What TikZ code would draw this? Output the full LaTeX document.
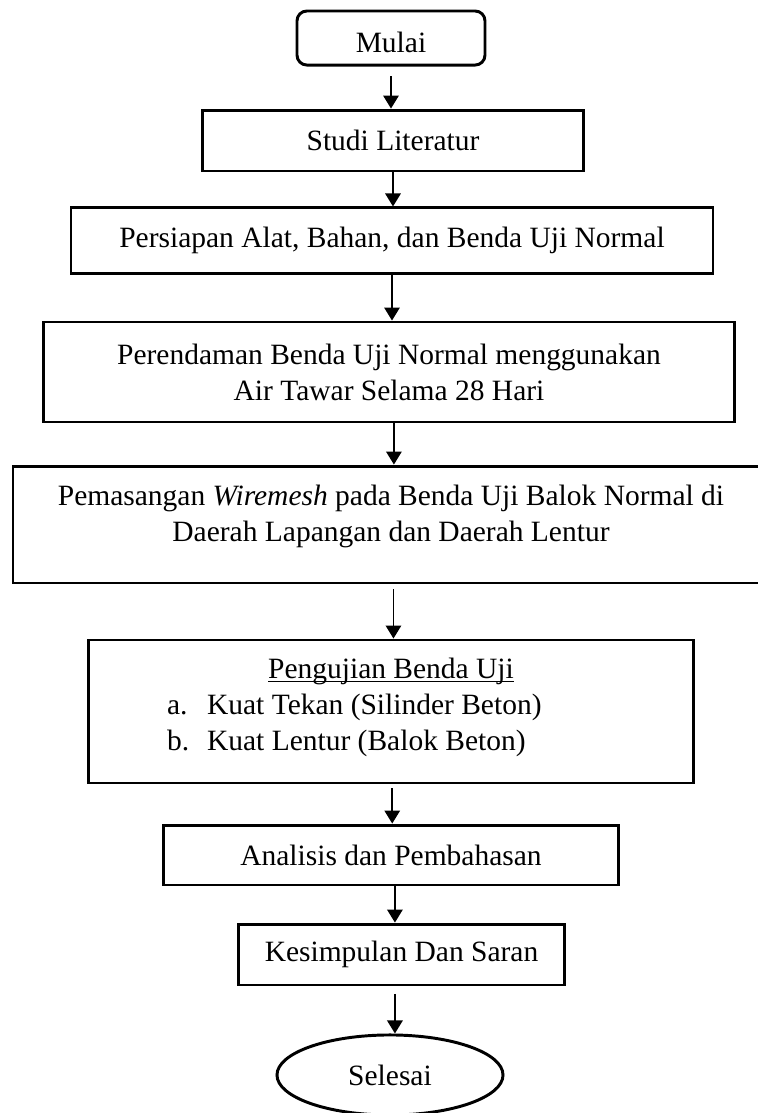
\documentclass[tikz,border=0pt]{standalone}
\usepackage{fontspec}
\setmainfont{Liberation Serif}
\usepackage{tikz}
\usetikzlibrary{shapes.geometric, arrows.meta}
\newcommand{\lineunder}[1]{\setbox0\hbox{#1}\rlap{\rule[-1.4pt]{\wd0}{0.5pt}}\box0}
\tikzset{
    normal/.style={draw, line width=1.2pt, font=\fontsize{12}{14.6}\selectfont},
    terminal/.style={style=normal, rounded corners=4pt, minimum width=76.5pt, minimum height=22pt, text height=11.6pt}, % start
    process/.style={style=normal, inner sep=0pt, align=center}, % steps
    finish/.style={style=normal, ellipse, inner sep=0pt, minimum width=92pt, minimum height=32.6pt}, % end
    flow/.style={line width=0.7pt, -{Triangle[length=5.3pt, width=6.3pt]}}
}

\begin{document}
\begin{tikzpicture}[x=0.407pt, y=-0.407pt]
          \useasboundingbox (0, 0) rectangle (758, 1113);
          \node[terminal] (mulai) at (391, 38) {Mulai};
          \node[process, minimum width=154.7pt, minimum height=24.8pt] (studi) at (393, 140.5) {Studi Literatur};
          \node[process, minimum width=261.3pt, minimum height=26.5pt] (persiapan) at (392, 240.5) {Persiapan Alat, Bahan, dan Benda Uji Normal};
          \node[process, minimum width=281.6pt, minimum height=40.7pt] (rendam) at (389, 372) {Perendaman Benda Uji Normal menggunakan\\Air Tawar Selama 28 Hari};
          \node[process, minimum width=307.7pt, minimum height=47.6pt] (wiremesh) at (391, 524.5) {Pemasangan \textit{Wiremesh} pada Benda Uji Balok Normal di\\Daerah Lapangan dan Daerah Lentur\\[-5.4pt]\mbox{}};
          \node[process, minimum width=246.6pt, minimum height=58.2pt] (uji) at (391, 711.5) {%
            \begin{tabular}{@{}p{16.3pt}@{}p{166pt}@{}}
              \multicolumn{2}{c}{\lineunder{Pengujian Benda Uji}}\\
              a. & Kuat Tekan (Silinder Beton)\\
              b. & Kuat Lentur (Balok Beton)\rule[-7.6pt]{0pt}{7.6pt}
            \end{tabular}};
          \node[process, minimum width=184.8pt, minimum height=24.4pt] (analisis) at (391, 855) {Analisis dan Pembahasan};
          \node[process, minimum width=132.3pt, minimum height=24.8pt] (simpulan) at (401.5, 954.5) {Kesimpulan Dan Saran};
          \node[finish] (selesai) at (390, 1075) {Selesai};

          \draw[flow, shorten <=4pt] (mulai.south) to (mulai.south |- studi.north);
          \draw[flow] (studi.south) to (studi.south |- persiapan.north);
          \draw[flow] (persiapan.south) to (persiapan.south |- rendam.north);
          \draw[flow] ([xshift=2pt]rendam.south) to ([xshift=2pt]rendam.south |- wiremesh.north);
          \draw[flow, shorten <=2pt] ([xshift=1pt]wiremesh.south) to ([xshift=1pt]wiremesh.south |- uji.north);
          \draw[flow, shorten <=1.6pt] ([xshift=0.5pt]uji.south) to ([xshift=0.5pt]uji.south |- analisis.north);
          \draw[flow] ([xshift=1.6pt]analisis.south) to ([xshift=1.6pt]analisis.south |- simpulan.north);
          \draw[flow, shorten <=3pt] ([xshift=1.6pt]analisis.south |- simpulan.south) to ([xshift=1.6pt]analisis.south |- selesai.north);
        \end{tikzpicture}
\end{document}
